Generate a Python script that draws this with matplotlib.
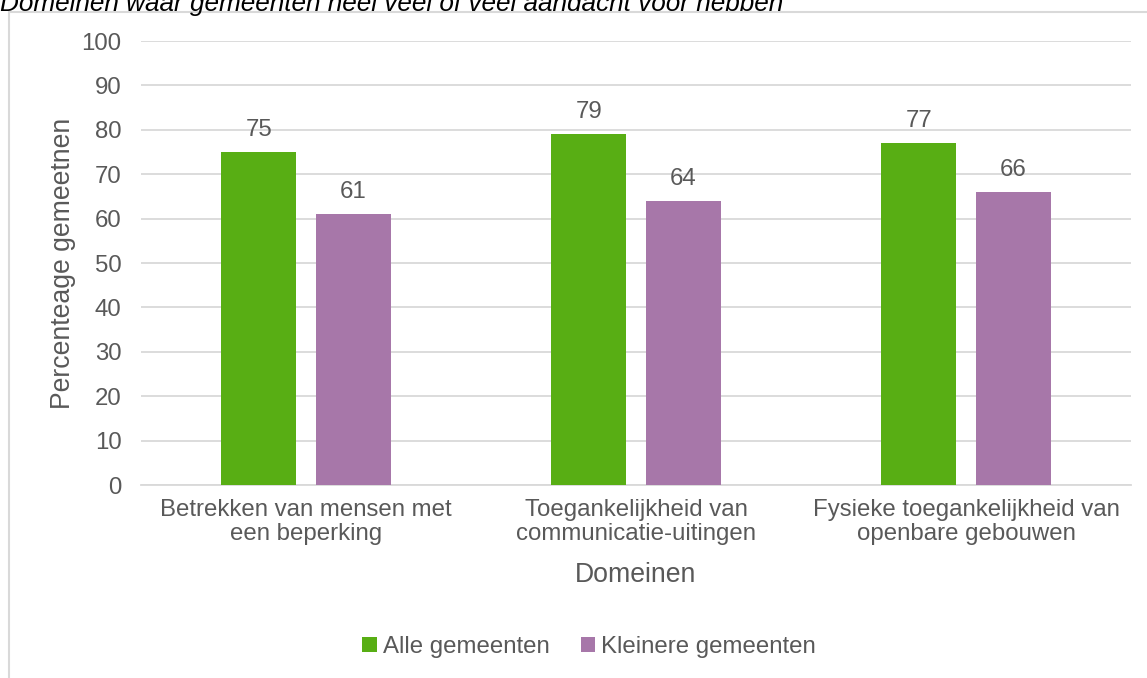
import numpy as np
import matplotlib.pyplot as plt
from matplotlib.patches import Rectangle

plt.rcParams['font.family'] = ['Liberation Sans', 'DejaVu Sans']

# data
categories = ['Betrekken van mensen met\neen beperking',
              'Toegankelijkheid van\ncommunicatie-uitingen',
              'Fysieke toegankelijkheid van\nopenbare gebouwen']
alle = [75, 79, 77]
kleinere = [61, 64, 66]
series_names = ['Alle gemeenten', 'Kleinere gemeenten']

green = '#58AE14'
purple = '#A777A9'
textcol = '#595959'
gridcol = '#D9D9D9'

fig = plt.figure(figsize=(11.47, 6.78), dpi=100)

# chart border (cut off at right/bottom)
fig.patches.append(Rectangle((9 / 1147, -0.05), 1.2, 1 - 12 / 678 + 0.05,
                             transform=fig.transFigure, fill=False,
                             edgecolor='#D9D9D9', linewidth=1.5))

# title, partially cut off at the top
fig.text(0.0, 1 - 11 / 678, 'Domeinen waar gemeenten heel veel of veel aandacht voor hebben',
         fontsize=18.8, style='italic', color='black', ha='left', va='baseline')

ax = fig.add_axes([141 / 1147, 1 - 485 / 678, (1131 - 141) / 1147, (485 - 41) / 678])

x = np.arange(len(categories))
w = 0.227
gap = 0.06
b1 = ax.bar(x - (w + gap) / 2, alle, w, color=green, label=series_names[0], zorder=3)
b2 = ax.bar(x + (w + gap) / 2, kleinere, w, color=purple, label=series_names[1], zorder=3)

for bars in (b1, b2):
    for b in bars:
        ax.annotate(str(int(b.get_height())), (b.get_x() + b.get_width() / 2, b.get_height()),
                    xytext=(0, 8), textcoords='offset points', ha='center', va='bottom',
                    fontsize=17.3, color=textcol)

ax.set_xlim(-0.5, 2.5)
ax.set_ylim(0, 100)
ax.set_yticks(range(0, 101, 10))
ax.yaxis.grid(True, color=gridcol, linewidth=1.3, zorder=0)
ax.set_axisbelow(True)
for s in ['top', 'right', 'left']:
    ax.spines[s].set_visible(False)
ax.spines['bottom'].set_color(gridcol)
ax.spines['bottom'].set_linewidth(1.3)
ax.tick_params(axis='both', length=0, labelsize=17.3, labelcolor=textcol)
ax.tick_params(axis='y', pad=14)
ax.tick_params(axis='x', pad=10)
ax.set_xticks(x)
ax.set_xticklabels(categories, linespacing=1.15)

ax.set_ylabel('Percenteage gemeetnen', fontsize=19.2, color=textcol, labelpad=4)
ax.set_xlabel('Domeinen', fontsize=19.2, color=textcol, labelpad=12)

ax.legend(loc='center', bbox_to_anchor=(589 / 1147, 1 - 647 / 678),
          bbox_transform=fig.transFigure, ncol=2, frameon=False,
          fontsize=17.3, labelcolor=textcol, handlelength=0.6, handleheight=0.6,
          handletextpad=0.25, columnspacing=1.3)

fig.savefig('out.png', dpi=100)
